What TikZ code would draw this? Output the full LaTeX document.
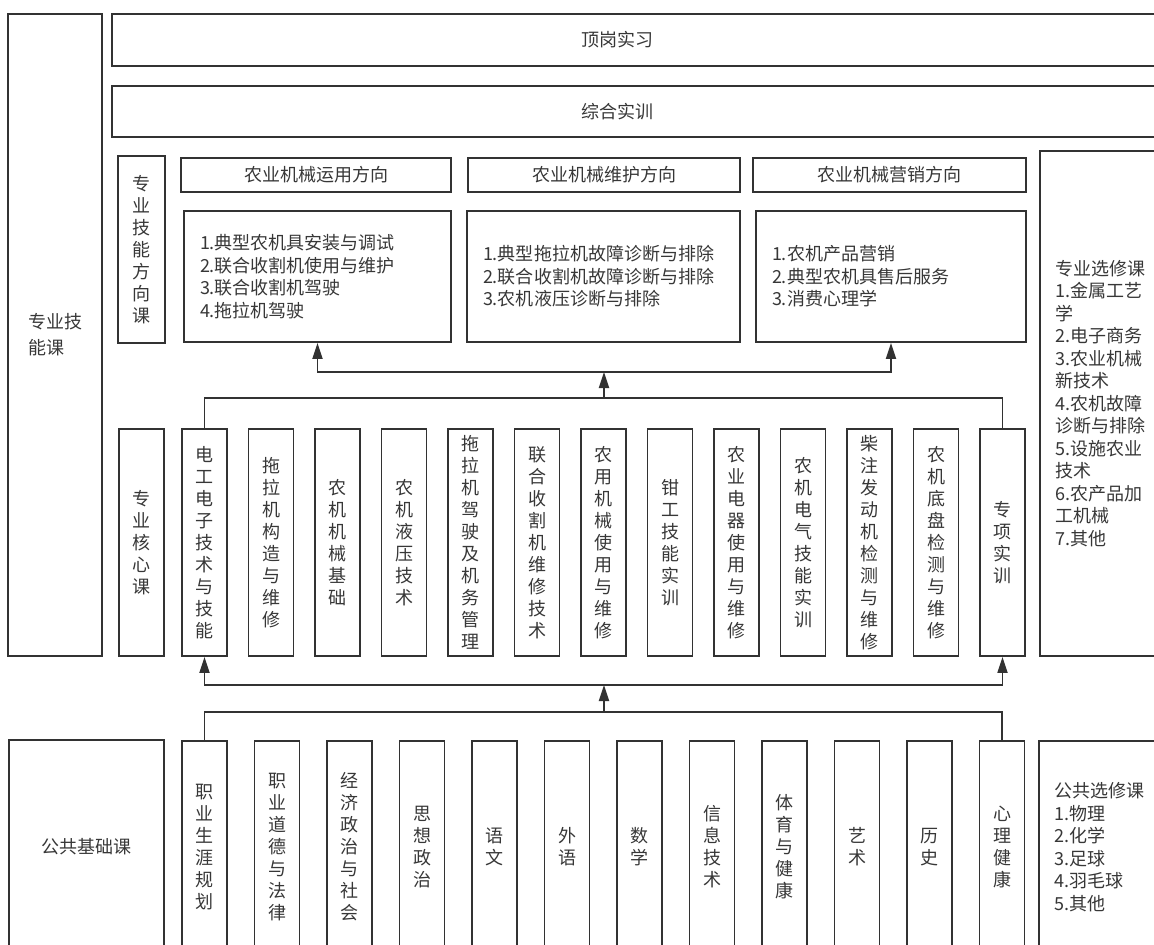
\documentclass[tikz,border=0pt]{standalone}
\usepackage{fontspec}
\setmainfont{Noto Sans CJK SC}
\usetikzlibrary{arrows.meta}
\XeTeXlinebreaklocale "zh"
\XeTeXlinebreakskip = 0pt plus 1pt
\definecolor{linecol}{RGB}{50,50,50}
\definecolor{txtcol}{RGB}{55,55,55}
\tikzset{
  % plain framed box
  frame/.style={rectangle, draw=linecol, line width=1.8pt, inner sep=0pt, text=txtcol,
                font=\fontsize{18pt}{22pt}\selectfont},
  % vertical course box (one character per line)
  vbox/.style={frame, minimum width=45pt, minimum height=#1, text width=20pt, align=center},
  vbox/.default={227pt},
  % list box with left aligned lines
  lbox/.style={frame, minimum height=131pt, align=left, font=\fontsize{18pt}{22.5pt}\selectfont},
  % direction header
  hbox/.style={frame, minimum height=34pt},
  % free text
  txt/.style={text=txtcol, font=\fontsize{18pt}{22pt}\selectfont, inner sep=0pt},
  % connector
  link/.style={draw=linecol, line width=1.8pt},
  % connector with arrow
  arr/.style={link, -{Triangle[length=16pt,width=10pt]}},
}
\begin{document}
\begin{tikzpicture}[x=1pt,y=-1pt]
  \useasboundingbox (0,0) rectangle (1154,945);
  \clip (0,0) rectangle (1154,945);

  % top rows
  \node[frame, minimum width=94pt, minimum height=642pt, align=left] (skill) at (55,335) {专业技\\[4pt]能课};
  \node[frame, minimum width=1058pt, minimum height=52pt] (intern) at (641,40) {};
  \node[txt] (internT) at (617,40) {顶岗实习};
  \node[frame, minimum width=1058pt, minimum height=51pt] (train) at (641,111.5) {};
  \node[txt] (trainT) at (617,111.5) {综合实训};

  % direction courses
  \node[vbox=187pt, minimum width=47pt] (dirc) at (141.5,249.5) {专业技能方向课};
  \node[hbox, minimum width=270pt] (h1) at (316,175) {农业机械运用方向};
  \node[hbox, minimum width=272pt] (h2) at (604,175) {农业机械维护方向};
  \node[hbox, minimum width=273pt] (h3) at (889.5,175) {农业机械营销方向};
  \node[lbox, minimum width=267pt, text width=235pt] (d1) at (317.5,276.5)
    {1.典型农机具安装与调试\\2.联合收割机使用与维护\\3.联合收割机驾驶\\4.拖拉机驾驶};
  \node[lbox, minimum width=273pt, text width=241pt] (d2) at (603.5,276.5)
    {1.典型拖拉机故障诊断与排除\\2.联合收割机故障诊断与排除\\3.农机液压诊断与排除};
  \node[lbox, minimum width=270pt, text width=238pt] (d3) at (891,276.5)
    {1.农机产品营销\\2.典型农机具售后服务\\3.消费心理学};

  % electives
  \node[frame, minimum width=130pt, minimum height=505pt, text width=100pt, align=left,
        font=\fontsize{18pt}{22.5pt}\selectfont] (elec) at (1105,403.5)
    {专业选修课\\1.金属工艺\\学\\2.电子商务\\3.农业机械\\新技术\\4.农机故障\\诊断与排除\\5.设施农业\\技术\\6.农产品加\\工机械\\7.其他};
  \node[frame, minimum width=131pt, minimum height=212pt, text width=101pt, align=left,
        font=\fontsize{18pt}{22.5pt}\selectfont] (pubel) at (1104.5,847)
    {公共选修课\\1.物理\\2.化学\\3.足球\\4.羽毛球\\5.其他};

  % core courses
  \node[vbox] (k0) at (141.5,542.5) {专业核心课};
  \foreach \t [count=\i] in {电工电子技术与技能, 拖拉机构造与维修, 农机机械基础, 农机液压技术,
      拖拉机驾驶及机务管理, 联合收割机维修技术, 农用机械使用与维修, 钳工技能实训,
      农业电器使用与维修, 农机电气技能实训, 柴注发动机检测与维修, 农机底盘检测与维修, 专项实训}
    \node[vbox] (k\i) at ({204.5+66.5*(\i-1)},542.5) {\t};

  % public courses
  \node[frame, minimum width=155pt, minimum height=213pt] (pubbase) at (86.5,846.5) {公共基础课};
  \foreach \t [count=\i] in {职业生涯规划, 职业道德与法律, 经济政治与社会, 思想政治, 语文, 外语,
      数学, 信息技术, 体育与健康, 艺术, 历史, 心理健康}
    \node[vbox=212pt] (p\i) at ({204.5+72.5*(\i-1)},847) {\t};

  % connectors
  \coordinate (ju) at (604,398);
  \coordinate (jd) at (604,372);
  \coordinate (jl) at (604,685);
  \coordinate (jp) at (604,712);
  \draw[link] (k1.north) |- (ju) -| (k13.north);
  \draw[arr] (ju) -- (jd);
  \draw[arr] (jd) -| (d1.south);
  \draw[arr] (jd) -| (d3.south);
  \draw[arr] (jl) -| (k1.south);
  \draw[arr] (jl) -| (k13.south);
  \draw[arr] (jp) -- (jl);
  \draw[link] (p1.north) |- (jp) -| (p12.north);
\end{tikzpicture}
\end{document}
